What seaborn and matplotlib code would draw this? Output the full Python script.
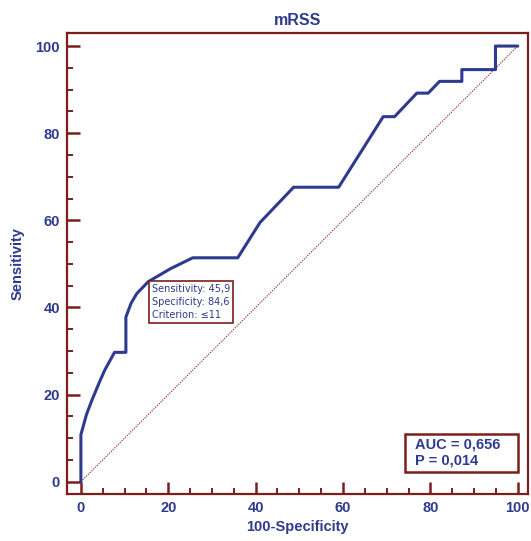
import numpy as np
import pandas as pd
import matplotlib
matplotlib.use("Agg")
import matplotlib.pyplot as plt
import seaborn as sns
from matplotlib.ticker import MultipleLocator
from matplotlib.patches import Rectangle

# ROC curve points (100-Specificity, Sensitivity)
fpr = [0, 0, 1.3, 2.6, 4.3, 5.5, 7.7, 10.3, 10.3, 11.5, 12.8, 15.4, 20.5, 25.6,
       35.9, 41.0, 48.7, 59.0, 69.2, 71.8, 76.9, 79.5, 82.1, 87.2, 87.2, 94.9,
       94.9, 100]
tpr = [0, 10.8, 15.5, 18.9, 23.0, 25.7, 29.7, 29.7, 37.8, 41.0, 43.2, 45.9, 48.9,
       51.4, 51.4, 59.5, 67.6, 67.6, 83.8, 83.8, 89.2, 89.2, 91.9, 91.9, 94.6,
       94.6, 100, 100]
crit_x, crit_y = 15.4, 45.9
crit_text = "Sensitivity: 45,9\nSpecificity: 84,6\nCriterion: \u226411"
stat_text = "AUC = 0,656\nP = 0,014"
title = "mRSS"

navy = "#2E3A8E"
maroon = "#7A1E1E"

sns.set_style("white")
plt.rcParams['font.family'] = ['Liberation Sans', 'DejaVu Sans']

df = pd.DataFrame({"fpr": fpr, "tpr": tpr})

fig = plt.figure(figsize=(5.31, 5.41), dpi=100)
ax = fig.add_axes([0.126, 0.087, 0.868, 0.852])

ax.plot([0, 100], [0, 100], color="#A0403A", lw=0.9, ls=(0, (1, 1)))
sns.lineplot(data=df, x="fpr", y="tpr", sort=False, estimator=None, errorbar=None,
             color=navy, lw=2.2, ax=ax)

ax.set_xlim(-3.2, 102.3)
ax.set_ylim(-2.8, 103)
ax.xaxis.set_major_locator(MultipleLocator(20))
ax.xaxis.set_minor_locator(MultipleLocator(5))
ax.yaxis.set_major_locator(MultipleLocator(20))
ax.yaxis.set_minor_locator(MultipleLocator(5))
ax.tick_params(which="major", direction="in", length=9, width=1.8, color=maroon,
               labelcolor=navy, labelsize=10.5, pad=5)
ax.tick_params(which="minor", direction="in", length=4.5, width=1.4, color=maroon)
ax.tick_params(axis="x", which="both", bottom=True, top=False)
ax.tick_params(axis="y", which="both", left=True, right=False)
for lab in ax.get_xticklabels() + ax.get_yticklabels():
    lab.set_fontweight("bold")
for s in ax.spines.values():
    s.set_color(maroon)
    s.set_linewidth(1.6)

ax.set_xlabel("100-Specificity", color=navy, fontweight="bold", fontsize=10.5, labelpad=4)
ax.set_ylabel("Sensitivity", color=navy, fontweight="bold", fontsize=10.5, labelpad=8)
ax.set_title(title, color=navy, fontweight="bold", fontsize=11.5, pad=6)

ax.text(crit_x + 0.8, crit_y - 0.6, crit_text, ha="left", va="top", color=navy,
        fontsize=7, family=['Liberation Sans Narrow', 'DejaVu Sans'], linespacing=1.35,
        bbox=dict(boxstyle="square,pad=0.3", fc="white", ec=maroon, lw=1.2))

# AUC box
ax.add_patch(Rectangle((0.733, 0.048), 0.245, 0.082, transform=ax.transAxes,
                       fc="white", ec=maroon, lw=1.8, zorder=4))
ax.text(0.755, 0.122, stat_text, transform=ax.transAxes, ha="left", va="top",
        color=navy, fontsize=10.5, fontweight="bold", linespacing=1.2, zorder=5)

fig.savefig("out.png", dpi=100)
